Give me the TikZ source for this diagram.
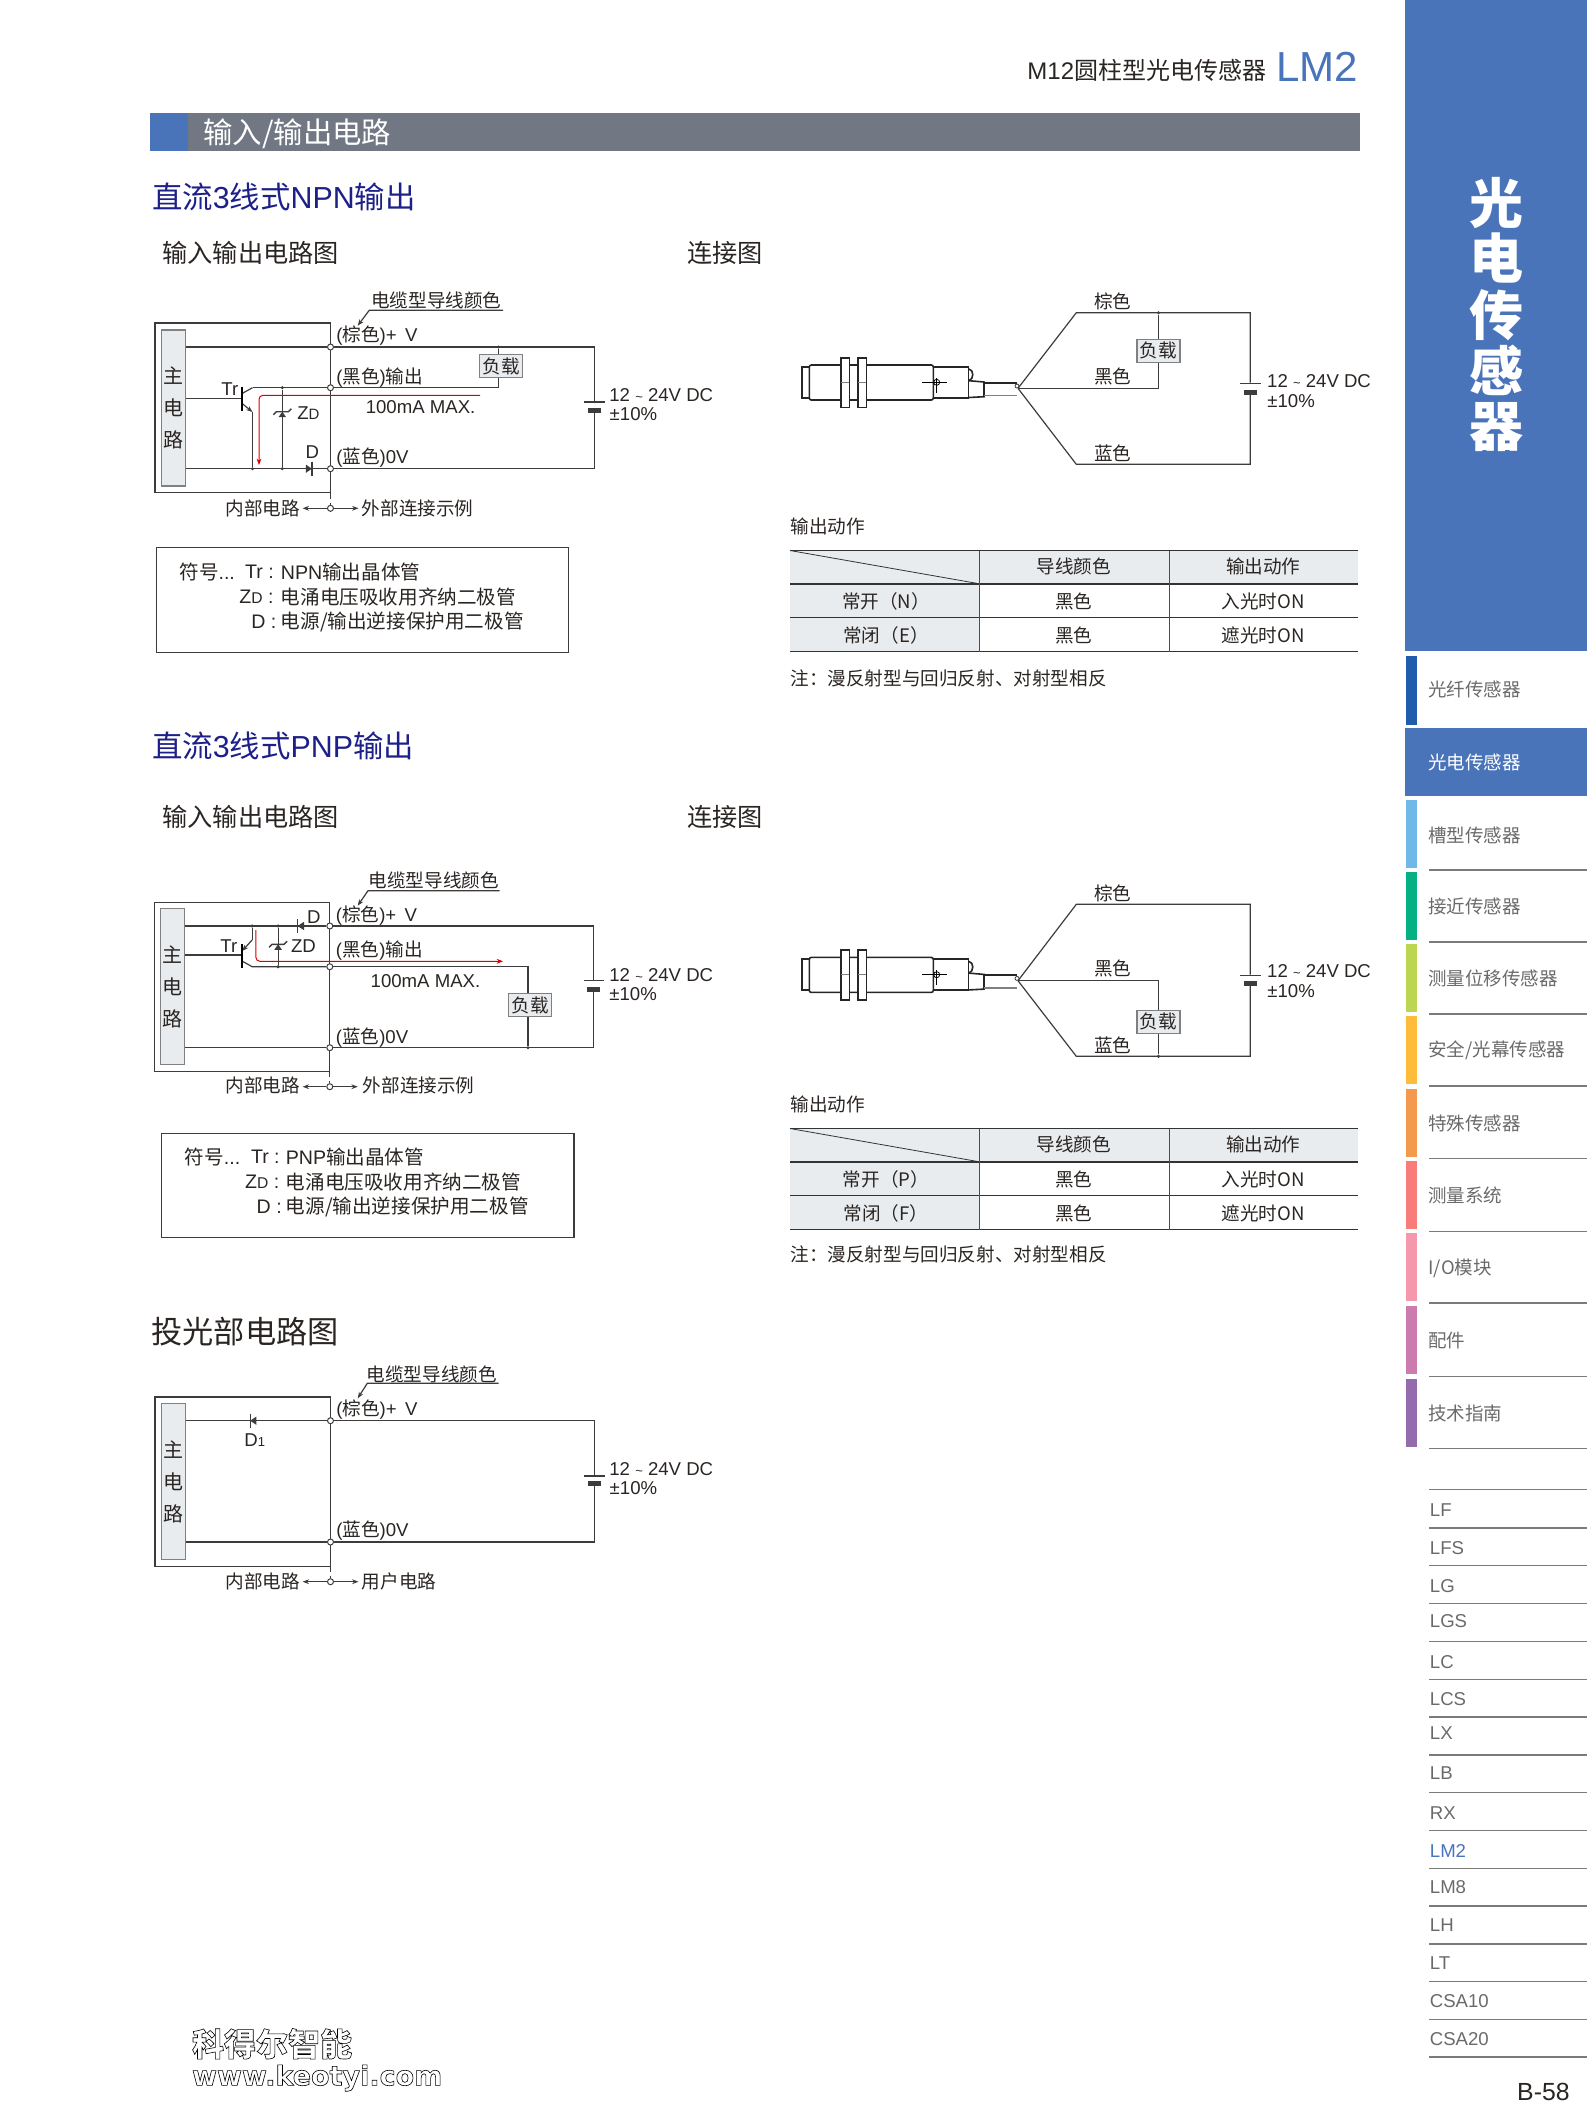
\documentclass[tikz,border=0pt]{standalone}
\usepackage{fontspec}
\usepackage{xcolor}
\usetikzlibrary{arrows.meta,calc}
\setmainfont{Liberation Sans}
\newfontfamily\cjk{Noto Sans CJK SC}
\newfontfamily\fatlat{DejaVu Sans}
\definecolor{ink}{HTML}{2A2522}
\definecolor{wirecol}{HTML}{3C3C3C}
\definecolor{panelblue}{HTML}{4A74B9}
\definecolor{bargray}{HTML}{717783}
\definecolor{headnavy}{HTML}{1D2088}
\definecolor{cellgray}{HTML}{E9ECEF}
\definecolor{sidegray}{HTML}{6A6A6A}
\definecolor{rulegray}{HTML}{7B7B7B}
\definecolor{tabA}{HTML}{1F5CAB}
\definecolor{tabB}{HTML}{70B8E8}
\definecolor{tabC}{HTML}{05B083}
\definecolor{tabD}{HTML}{BBD653}
\definecolor{tabE}{HTML}{FDBD3B}
\definecolor{tabF}{HTML}{F39A4E}
\definecolor{tabG}{HTML}{F87C7A}
\definecolor{tabH}{HTML}{F598AD}
\definecolor{tabI}{HTML}{CB7BAE}
\definecolor{tabJ}{HTML}{946CAD}
\newcommand{\tld}{{\fontsize{6.5}{8}\selectfont\char"7E}}
\tikzset{
  wire/.style={draw=wirecol, line width=0.6pt},
  redline/.style={draw=red!85!black, line width=0.5pt, rounded corners=2pt},
  lab/.style={inner sep=0, text=ink, anchor=west, font=\fontsize{9.3}{11}\selectfont},
  zh/.style={inner sep=0, text=ink, font=\cjk\fontsize{9.3}{11}\selectfont},
  leg/.style={inner sep=0, text=ink, anchor=west, font=\fontsize{9.8}{12}\selectfont},
  term/.style={circle, draw=wirecol, fill=white, line width=0.5pt, minimum size=3pt, inner sep=0},
  jdot/.style={circle, fill=wirecol, minimum size=1.7pt, inner sep=0},
  mainbar/.style={draw=gray, fill=cellgray, line width=0.6pt, minimum width=12pt, minimum height=78pt, inner sep=0,
    align=center, text=ink, font=\cjk\fontsize{10}{16}\selectfont},
  loadbox/.style={draw=gray, fill=cellgray, line width=0.7pt, minimum width=21.5pt, minimum height=11.5pt, inner sep=0,
    text=ink, font=\cjk\fontsize{9.3}{11}\selectfont},
  plateL/.style={fill=wirecol, minimum width=10.3pt, minimum height=0.7pt, inner sep=0},
  plateS/.style={fill=wirecol, minimum width=6.5pt, minimum height=2.4pt, inner sep=0},
  arr/.style={-{Stealth[length=3.2pt,width=2.4pt]}},
  h1/.style={inner sep=0, anchor=west, text=headnavy, font=\fontsize{15.2}{18}\selectfont},
  h2/.style={inner sep=0, anchor=west, text=ink, font=\cjk\fontsize{12.6}{15}\selectfont},
  tabtxt/.style={inner sep=0, anchor=west, text=sidegray, font=\cjk\fontsize{9.25}{11}\selectfont},
  sidetxt/.style={inner sep=0, anchor=west, text=sidegray, font=\fontsize{9.3}{11}\selectfont},
  body/.style={draw=black!85, line width=0.8pt},
}
% diode: bar at x, triangle towards the side given by the sign of #3
\newcommand{\diodesym}[3]{
  \fill[wirecol] (#1,#2) -- (#1+#3,#2-4.2) -- (#1+#3,#2+4.2) -- cycle;
  \draw[wirecol, line width=0.7pt] (#1,#2-7.2) -- (#1,#2+7.2);
}
% zener: apex of the triangle on the bar
\newcommand{\zenersym}[2]{
  \fill[wirecol] (#1,#2) -- (#1-3.8,#2+5.5) -- (#1+3.8,#2+5.5) -- cycle;
  \draw[wirecol, line width=0.7pt] (#1-9,#2+3) -- (#1-6,#2) -- (#1+6,#2) -- (#1+9,#2-3);
}
% sensor with its cable
\newcommand{\sensorsym}{
  \draw[body] (801.7,366.7) rectangle (809.3,397.7);
  \draw[body, fill=white, rounded corners=1pt] (809.3,365) rectangle (933.3,400);
  \draw[body] (933.3,366.7) rectangle (968.3,397.7);
  \foreach \nx in {840.7,857.7} {
    \draw[body, fill=white] (\nx,357.7) rectangle (\nx+8.6,407.3);
    \draw[gray, line width=0.6pt] (\nx,382.3) -- (\nx+8.6,382.3);
  }
  \draw[black, line width=0.4pt] (922.3,382.3) -- (947.3,382.3);
  \draw[black, line width=0.4pt] (936.7,378) -- (936.7,392.7);
  \draw[black, line width=0.4pt] (936.7,382.3) circle (1.5pt);
  \draw[body] (969,369) .. controls (974,370) and (974,379) .. (969,380.7);
  \draw[body] (969,380.7) -- (984,382) -- (984,396.7) -- (969,397.5);
  \draw[body] (984,382.7) -- (1016.7,382.7);
  \draw[gray, line width=0.7pt] (984,395.7) -- (1016.7,395.7);
  \draw[wirecol, line width=0.4pt] (1017,386) circle (1pt);
}
\begin{document}
\begin{tikzpicture}[x=0.5pt,y=-0.5pt]
\useasboundingbox (0,0) rectangle (1587,2117);

% Page head
\node[inner sep=0, anchor=east, text=ink, font=\fontsize{12}{14}\selectfont] (pageTitle) at (1266.5,70) {M12{\cjk 圆柱型光电传感器}};
\node[inner sep=0, anchor=west, text=panelblue, font=\fontsize{21}{24}\selectfont] (pageCode) at (1276,66.5) {LM2};
\fill[bargray] (150,113.3) rectangle (1360,150.7);
\fill[panelblue] (150,113.3) rectangle (187.9,150.7);
\node[inner sep=0, anchor=west, text=white, font=\cjk\fontsize{14.7}{18}\selectfont] (barTitle) at (203,133.7) {输入/输出电路};

% Side panel
\fill[panelblue] (1405,0) rectangle (1587,651);
\foreach \cy/\ch in {203/光,258/电,315/传,370/感,426.7/器} {
  \node[inner sep=0, text=white, font=\cjk\bfseries\fontsize{27}{30}\selectfont] (side\ch) at (1496.7,\cy) {\ch};
}
\fill[panelblue] (1405,728.3) rectangle (1587,795.7);
\foreach \ya/\yb/\yt/\col/\txt/\nm in {656/725/689/tabA/光纤传感器/a, 800/868/835/tabB/槽型传感器/b, 872/940/906.7/tabC/接近传感器/c,
  944/1012/978.3/tabD/测量位移传感器/d, 1016/1084/1050.3/tabE/安全\slash 光幕传感器/e, 1089/1157/1123.3/tabF/特殊传感器/f,
  1161/1229/1195/tabG/测量系统/g, 1233/1301/1268.3/tabH/I\slash O模块/h, 1306/1374/1340.7/tabI/配件/i, 1379/1447/1413.3/tabJ/技术指南/j} {
  \fill[\col] (1406,\ya) rectangle (1417,\yb);
  \node[tabtxt] (tab\nm) at (1428,\yt) {\txt};
}
\node[tabtxt, text=white] (tabOn) at (1428,762.7) {光电传感器};
\foreach \yr in {870,942,1014,1086,1158.7,1231.3,1303,1376.7,1448.7,1489.4,1527.8,1565.7,1603.3,1641.3,1679.2,1716.8,1754.8,1792.3,1830.3,1868.3,1905.8,1943.8,1981.3,2019.3,2056.9} {
  \draw[rulegray, line width=0.7pt] (1429,\yr) -- (1587,\yr);
}
\foreach \yt/\txt in {1510.2/LF,1548.2/LFS,1585.6/LG,1621.5/LGS,1662.5/LC,1699/LCS,1733/LX,1773.3/LB,1813.1/RX,1886.8/LM8,1925.2/LH,1963.4/LT,2001.3/CSA10,2038.7/CSA20} {
  \node[sidetxt] (ser\txt) at (1429.5,\yt) {\txt};
}
\node[sidetxt, text=panelblue] (serLMtwo) at (1429.5,1850.5) {LM2};
\node[inner sep=0, anchor=east, text=ink, font=\fontsize{12.4}{15}\selectfont] (pageNo) at (1570,2092.4) {B-58};

% Headings
\node[h1] (headNpn) at (151.7,196.7) {{\cjk 直流}3{\cjk 线式}NPN{\cjk 输出}};
\node[h2] (headA) at (162,253.3) {输入输出电路图};
\node[h2] (headB) at (687,253.3) {连接图};
\node[h1] (headPnp) at (151.7,745.5) {{\cjk 直流}3{\cjk 线式}PNP{\cjk 输出}};
\node[h2] (headC) at (162,817) {输入输出电路图};
\node[h2] (headD) at (687,817) {连接图};
\node[inner sep=0, anchor=west, text=ink, font=\cjk\fontsize{15.6}{18}\selectfont] (headE) at (151,1331.7) {投光部电路图};

% NPN circuit
\begin{scope}[name prefix=npn-]
  \draw[wire] (154.9,323) rectangle (330.5,492.7);
  \node[mainbar] (bar) at (173.4,408) {主\\电\\路};
  \node[term] (tV) at (330.5,347) {};
  \node[term] (tO) at (330.5,387.7) {};
  \node[term] (tG) at (330.5,468.7) {};
  \node[term] (tIO) at (330.5,508.3) {};
  \node[plateL] (batL) at (594.6,402) {};
  \node[plateS] (batS) at (594.6,410.3) {};
  \node[loadbox] (load) at (501,366.2) {负载};
  \coordinate (rt) at (594.6,347);
  \coordinate (rb) at (594.6,468.7);
  \node[jdot] (jV) at (498.5,347) {};
  \coordinate (lo) at (498.5,387.7);
  \node[jdot] (jZa) at (282.3,387.7) {};
  \node[jdot] (jZb) at (282.3,468.7) {};
  \node[jdot] (jE) at (252.5,468.7) {};
  \coordinate (qb) at (242.1,398.7);
  \coordinate (qc) at (252.5,387.7);
  \coordinate (qe) at (252.5,412);
  \draw[wire] (bar.east |- tV) -- (tV) -- (rt) -- (batL);
  \draw[wire] (batS) -- (rb) -- (tG) -- (bar.east |- tG);
  \draw[wire] (jV) -- (jV |- load.north);
  \draw[wire] (lo |- load.south) -- (lo) -- (tO) -- (qc);
  \draw[wire] (bar.east |- qb) -- (qb);
  \draw[wire] (jZa) -- (jZb);
  \draw[wire] (qe) -- (jE);
  \draw[wire] (qc) -- (242.1,393.5);
  \draw[wire, arr] (242.1,403.5) -- (qe);
  \draw[black, line width=1.2pt] (242.1,386.7) -- (242.1,410.7);
  \zenersym{282.3}{411.7}
  \diodesym{311.8}{468.7}{-6}
  \draw[redline, arr] (480.2,395.3) -- (259,395.3) -- (259,465);
  \draw[wire, densely dashed] (330.5,492.7) -- (tIO);
  \node[lab, font=\cjk\fontsize{9.3}{11}\selectfont] (cap) at (370.9,300) {电缆型导线颜色};
  \coordinate (capL) at (369.2,310.3);
  \coordinate (capR) at (503.1,310.3);
  \coordinate (capE) at (357.7,325.7);
  \draw[wire, arr] (capR) -- (capL) -- (capE);
  \node[lab] (lV) at (335.9,336) {({\cjk 棕色})+ \,V};
  \node[lab] (lO) at (335.9,377.7) {({\cjk 黑色}){\cjk 输出}};
  \node[lab] (lG) at (335.9,457.7) {({\cjk 蓝色})0V};
  \node[lab] (lMax) at (365.4,407.3) {100mA MAX.};
  \node[lab] (lTr) at (221,389.3) {Tr};
  \node[lab] (lZd) at (296.9,412.7) {Z{\fontsize{7.5}{9}\selectfont D}};
  \node[lab] (lD) at (305.3,452.3) {D};
  \node[lab] (lU) at (609,395.3) {12 \tld{} 24V DC};
  \node[lab] (lP) at (609.3,414) {±10\%};
  \node[zh, anchor=east] (lIn) at (300.2,508.3) {内部电路};
  \node[zh, anchor=west] (lOut) at (361.5,508.3) {外部连接示例};
  \draw[wire, arr] (tIO) -- ([xshift=1.2pt]lIn.east);
  \draw[wire, arr] (tIO) -- ([xshift=-1.5pt]lOut.west);
  \draw[wire] (156.8,547.7) rectangle (568.6,652.3);
  \node[leg] (s1) at (179,571.7) {{\cjk 符号}...};
  \node[leg] (s2) at (244.8,571.7) {Tr :};
  \node[leg] (s3) at (280.5,571.7) {NPN{\cjk 输出晶体管}};
  \node[leg] (s4) at (239,596.7) {Z{\fontsize{7.8}{9}\selectfont D} :};
  \node[leg] (s5) at (280.5,596.7) {{\cjk 电涌电压吸收用齐纳二极管}};
  \node[leg] (s6) at (250.9,622.2) {D :};
  \node[leg] (s7) at (280.5,622.2) {{\cjk 电源/输出逆接保护用二极管}};
\end{scope}

% PNP circuit
\begin{scope}[name prefix=pnp-]
  \draw[wire] (154.1,902.3) rectangle (329.8,1071.3);
  \node[mainbar] (bar) at (172.7,986.7) {主\\电\\路};
  \node[term] (tV) at (329.8,926) {};
  \node[term] (tO) at (329.8,966.7) {};
  \node[term] (tG) at (329.8,1047.7) {};
  \node[term] (tIO) at (329.8,1086.7) {};
  \node[plateL] (batL) at (593.8,980.7) {};
  \node[plateS] (batS) at (593.8,989.3) {};
  \node[loadbox] (load) at (530,1005) {负载};
  \coordinate (rt) at (593.8,926);
  \coordinate (rb) at (593.8,1047.7);
  \coordinate (lo) at (528,966.7);
  \node[jdot] (jG) at (528,1047.7) {};
  \node[jdot] (jZa) at (278.1,926) {};
  \node[jdot] (jZb) at (278.1,966.7) {};
  \node[jdot] (jE) at (252.1,926) {};
  \coordinate (qb) at (242.1,955);
  \coordinate (qe) at (252.1,940);
  \coordinate (qc) at (252.1,966.7);
  \draw[wire] (bar.east |- tV) -- (tV) -- (rt) -- (batL);
  \draw[wire] (batS) -- (rb) -- (tG) -- (bar.east |- tG);
  \draw[wire] (bar.east |- qb) -- (qb);
  \draw[wire] (tO) -- (qc) -- (242.1,961);
  \draw[wire] (tO) -- (lo) -- (lo |- load.north);
  \draw[wire] (lo |- load.south) -- (jG);
  \draw[wire] (jZa) -- (jZb);
  \draw[wire] (jE) -- (qe);
  \draw[wire, arr] (qe) -- (242.1,951);
  \draw[black, line width=1.2pt] (242.1,944.3) -- (242.1,967.7);
  \zenersym{278.1}{944.3}
  \diodesym{297.6}{926}{6.4}
  \draw[redline, arr] (255.9,930) -- (255.9,961.3) -- (503.1,961.3);
  \draw[wire, densely dashed] (329.8,1071.3) -- (tIO);
  \node[lab, font=\cjk\fontsize{9.3}{11}\selectfont] (cap) at (368.2,880.7) {电缆型导线颜色};
  \coordinate (capL) at (368,890.7);
  \coordinate (capR) at (499.7,890.7);
  \coordinate (capE) at (357.7,905.7);
  \draw[wire, arr] (capR) -- (capL) -- (capE);
  \node[lab] (lV) at (335.5,916) {({\cjk 棕色})+ \,V};
  \node[lab] (lO) at (335.5,950.7) {({\cjk 黑色}){\cjk 输出}};
  \node[lab] (lG) at (335.5,1038) {({\cjk 蓝色})0V};
  \node[lab] (lMax) at (370.3,981) {100mA MAX.};
  \node[lab] (lTr) at (220,946) {Tr};
  \node[lab] (lZd) at (290.7,945.7) {ZD};
  \node[lab] (lD) at (306.8,916.7) {D};
  \node[lab] (lU) at (609,974.7) {12 \tld{} 24V DC};
  \node[lab] (lP) at (609,994.3) {±10\%};
  \node[zh, anchor=east] (lIn) at (300.2,1085.7) {内部电路};
  \node[zh, anchor=west] (lOut) at (362.4,1085.7) {外部连接示例};
  \draw[wire, arr] (tIO) -- ([xshift=1.2pt]lIn.east |- tIO);
  \draw[wire, arr] (tIO) -- ([xshift=-2.3pt]lOut.west |- tIO);
  \draw[wire] (161.8,1133.3) rectangle (573.9,1237.3);
  \node[leg] (s1) at (184.3,1156.7) {{\cjk 符号}...};
  \node[leg] (s2) at (250.6,1156.7) {Tr :};
  \node[leg] (s3) at (285.4,1156.7) {PNP{\cjk 输出晶体管}};
  \node[leg] (s4) at (244.8,1181.7) {Z{\fontsize{7.8}{9}\selectfont D} :};
  \node[leg] (s5) at (285.4,1181.7) {{\cjk 电涌电压吸收用齐纳二极管}};
  \node[leg] (s6) at (256.3,1206.7) {D :};
  \node[leg] (s7) at (285.4,1206.7) {{\cjk 电源/输出逆接保护用二极管}};
\end{scope}

% Emitter circuit
\begin{scope}[name prefix=emt-]
  \draw[wire] (154.9,1397) rectangle (330.5,1566.3);
  \node[mainbar] (bar) at (173.4,1481.7) {主\\电\\路};
  \node[term] (tV) at (330.5,1420.7) {};
  \node[term] (tG) at (330.5,1542) {};
  \node[term] (tIO) at (330.5,1581.7) {};
  \node[plateL] (batL) at (594.6,1476) {};
  \node[plateS] (batS) at (594.6,1483.3) {};
  \coordinate (rt) at (594.6,1420.7);
  \coordinate (rb) at (594.6,1542);
  \draw[wire] (bar.east |- tV) -- (tV) -- (rt) -- (batL);
  \draw[wire] (batS) -- (rb) -- (tG) -- (bar.east |- tG);
  \diodesym{250.2}{1420.7}{6.2}
  \draw[wire, densely dashed] (330.5,1566.3) -- (tIO);
  \node[lab, font=\cjk\fontsize{9.3}{11}\selectfont] (cap) at (366.3,1374) {电缆型导线颜色};
  \coordinate (capL) at (367.3,1383.3);
  \coordinate (capR) at (498.5,1383.3);
  \coordinate (capE) at (357.7,1398.3);
  \draw[wire, arr] (capR) -- (capL) -- (capE);
  \node[lab] (lV) at (335.9,1410) {({\cjk 棕色})+ \,V};
  \node[lab] (lG) at (335.9,1530.8) {({\cjk 蓝色})0V};
  \node[lab] (lD) at (244,1440) {D{\fontsize{6.5}{8}\selectfont 1}};
  \node[lab] (lU) at (609,1468.7) {12 \tld{} 24V DC};
  \node[lab] (lP) at (609.3,1488) {±10\%};
  \node[zh, anchor=east] (lIn) at (300.2,1581.7) {内部电路};
  \node[zh, anchor=west] (lOut) at (361.5,1581.7) {用户电路};
  \draw[wire, arr] (tIO) -- ([xshift=1.2pt]lIn.east);
  \draw[wire, arr] (tIO) -- ([xshift=-1.5pt]lOut.west);
\end{scope}

% Connection drawing, NPN
\begin{scope}[name prefix=conA-]
  \sensorsym
  \coordinate (sp) at (1018,388.3);
  \coordinate (ct) at (1076.3,312.7);
  \coordinate (cb) at (1076.3,464.3);
  \coordinate (rt) at (1250.2,312.7);
  \coordinate (rb) at (1250.2,464.3);
  \coordinate (bk) at (1158.5,388.3);
  \node[jdot] (jV) at (1158.5,312.7) {};
  \node[loadbox] (load) at (1158.5,350.8) {负载};
  \node[plateL] (batL) at (1250.2,383.7) {};
  \node[plateS] (batS) at (1250.2,392.3) {};
  \draw[wire] (sp) -- (ct) -- (rt) -- (batL);
  \draw[wire] (batS) -- (rb) -- (cb) -- (sp);
  \draw[wire] (sp) -- (bk) -- (load);
  \draw[wire] (jV) -- (load);
  \node[zh] (lB) at (1112.8,301.7) {棕色};
  \node[zh] (lK) at (1112.8,376.7) {黑色};
  \node[zh] (lL) at (1112.8,453.3) {蓝色};
  \node[lab] (lU) at (1266.8,381) {12 \tld{} 24V DC};
  \node[lab] (lP) at (1267,400.7) {±10\%};
\end{scope}

% Connection drawing, PNP
\begin{scope}[name prefix=conB-]
  \begin{scope}[shift={(0,592.4)}]
    \sensorsym
  \end{scope}
  \coordinate (sp) at (1018,980.7);
  \coordinate (ct) at (1076.3,904.3);
  \coordinate (cb) at (1076.3,1056.3);
  \coordinate (rt) at (1250.2,904.3);
  \coordinate (rb) at (1250.2,1056.3);
  \coordinate (bk) at (1158.5,980.7);
  \node[jdot] (jG) at (1158.5,1056.3) {};
  \node[loadbox] (load) at (1158.5,1021.8) {负载};
  \node[plateL] (batL) at (1250.2,975.7) {};
  \node[plateS] (batS) at (1250.2,983.3) {};
  \draw[wire] (sp) -- (ct) -- (rt) -- (batL);
  \draw[wire] (batS) -- (rb) -- (cb) -- (sp);
  \draw[wire] (sp) -- (bk) -- (load);
  \draw[wire] (jG) -- (load);
  \node[zh] (lB) at (1112.8,893.3) {棕色};
  \node[zh] (lK) at (1112.8,968.3) {黑色};
  \node[zh] (lL) at (1112.8,1045.3) {蓝色};
  \node[lab] (lU) at (1266.8,971) {12 \tld{} 24V DC};
  \node[lab] (lP) at (1267,990.7) {±10\%};
\end{scope}

% Output tables
\foreach \ty/\nm/\rowA/\rowB/\ny in {0/tblA/常开（N）/常闭（E）/678.5, 578/tblB/常开（P）/常闭（F）/676} {
  \begin{scope}[shift={(0,\ty)}, name prefix=\nm-]
    \node[zh, anchor=west] (cap) at (790,526) {输出动作};
    \fill[cellgray] (790,550.5) rectangle (1358,583.8);
    \fill[cellgray] (790,583.8) rectangle (979.5,651.5);
    \draw[black!80, line width=0.4pt] (790,550.5) -- (979.5,583.8);
    \foreach \yl in {550.5,583.8,651.5} {
      \draw[black!80, line width=0.8pt] (790,\yl) -- (1358,\yl);
    }
    \draw[black!80, line width=0.5pt] (790,617.8) -- (1358,617.8);
    \foreach \xl in {979.5,1169.2} {
      \draw[black!70, line width=0.6pt] (\xl,550.5) -- (\xl,651.5);
    }
    \node[zh] (c1) at (1073.6,566.7) {导线颜色};
    \node[zh] (c2) at (1263.3,566.7) {输出动作};
    \node[zh] (c3) at (886,601) {\rowA};
    \node[zh] (c4) at (1073.6,601) {黑色};
    \node[zh] (c5) at (1263.3,601) {入光时ON};
    \node[zh] (c6) at (886,635) {\rowB};
    \node[zh] (c7) at (1073.6,635) {黑色};
    \node[zh] (c8) at (1263.3,635) {遮光时ON};
    \node[zh, anchor=west] (note) at (790,\ny) {注：漫反射型与回归反射、对射型相反};
  \end{scope}
}

% Watermark
\node[inner sep=0, anchor=west, font=\cjk\bfseries\fontsize{16}{18}\selectfont] (wmA) at (191.7,2043.8)
  {\special{pdf:code 2 Tr 0.3 w 0 0 0 RG 1 1 1 rg}科得尔智能\special{pdf:code 0 Tr 0 g}};
\node[inner sep=0, anchor=west, font=\fatlat\bfseries\fontsize{13.5}{15}\selectfont] (wmB) at (191.7,2078)
  {\special{pdf:code 2 Tr 0.3 w 0 0 0 RG 1 1 1 rg}www.keotyi.com\special{pdf:code 0 Tr 0 g}};
\end{tikzpicture}
\end{document}
